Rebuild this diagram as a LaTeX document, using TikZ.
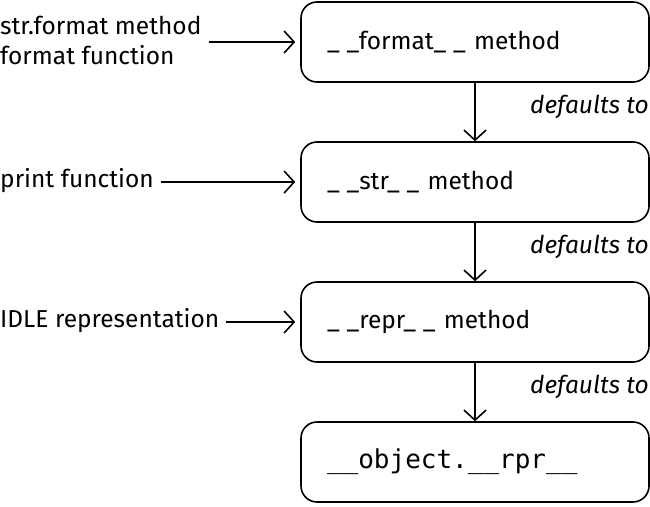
\documentclass[tikz,border=0pt]{standalone}
\usepackage{fontspec}
\setmainfont{Fira Sans}
\setmonofont{DejaVu Sans Mono}
\usetikzlibrary{arrows.meta}

\begin{document}
\begin{tikzpicture}[
    x=1pt, y=1pt,
    box/.style={
        draw,
        line width=1.6pt,
        rounded corners=16pt,
        minimum height=80pt,
        text width=296pt,
        inner xsep=26pt,
        align=left,
        font=\fontsize{24.5}{28}\selectfont
    },
    src/.style={
        anchor=west,
        inner sep=0pt,
        align=left,
        font=\fontsize{24.5}{30}\selectfont
    },
    note/.style={
        anchor=east,
        inner sep=0pt,
        font=\fontsize{24.5}{28}\selectfont\itshape
    },
    arr/.style={
        line width=1.6pt,
        -{Straight Barb[length=10pt,width=22pt,line width=1.6pt]}
    }
]

\useasboundingbox (0,0) rectangle (650,-506);

% Boxes
\node[box] (fmt)  at (475,-42)  {\_\;\_format\_\;\_ method};
\node[box] (str)  at (475,-182) {\_\;\_str\_\;\_ method};
\node[box] (repr) at (475,-322) {\_\;\_repr\_\;\_ method};
\node[box] (obj)  at (475,-462) {\raisebox{-4pt}{\fontsize{26}{28}\selectfont\texttt{\_\_object.\_\_rpr\_\_}}};

% Callers
\node[src] (call1) at (0,-40)  {str.format method\\format function};
\node[src] (call2) at (0,-181) {print function};
\node[src] (call3) at (0,-321) {IDLE representation};

\draw[arr, shorten <=7pt, shorten >=5pt] (call1.east |- fmt.west) -- (fmt.west);
\draw[arr, shorten <=7pt, shorten >=5pt] (call2.east |- str.west) -- (str.west);
\draw[arr, shorten <=7pt, shorten >=5pt] (call3.east |- repr.west) -- (repr.west);

% Fallbacks
\draw[arr] (fmt) -- (str);
\draw[arr] (str) -- (repr);
\draw[arr] (repr) -- (obj);

\node[note] (d1) at (649,-107) {defaults to};
\node[note] (d2) at (649,-247) {defaults to};
\node[note] (d3) at (649,-387) {defaults to};

\end{tikzpicture}
\end{document}
